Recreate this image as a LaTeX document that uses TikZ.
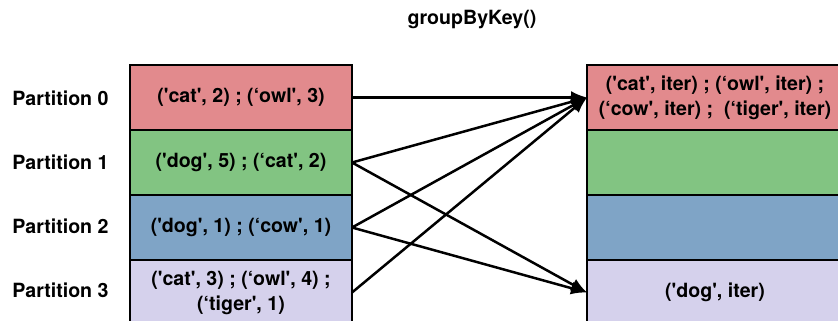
\documentclass[tikz,border=0pt]{standalone}
\usepackage{fontspec}
\newfontfamily\hv{TeX Gyre Heros}
\usepackage{tikz}
\usetikzlibrary{arrows.meta}
\definecolor{pred}{RGB}{226,138,141}
\definecolor{pgreen}{RGB}{130,196,130}
\definecolor{pblue}{RGB}{127,164,198}
\definecolor{plav}{RGB}{213,209,236}
\tikzset{
  part/.style={draw=black, line width=2pt, inner sep=0pt, outer sep=0pt,
    minimum height=65pt, align=center},
  lpart/.style={part, minimum width=222pt},
  rpart/.style={part, minimum width=256pt},
  shuffle/.style={line width=2.5pt, -{Latex[length=16pt,width=13pt]}}
}
\begin{document}
\begin{tikzpicture}[x=1pt,y=-1pt,
  every node/.style={font=\hv\bfseries\fontsize{19.6}{25}\selectfont}]
      \clip (0,0) rectangle (838,321);
      \node (title) at (472, 20) {groupByKey()};

      % partitions before the shuffle
      \node [lpart, fill=pred] (l0) at (241, 97.5) {('cat', 2) ; (‘owl', 3)};
      \node [lpart, fill=pgreen] (l1) at (241, 162.5) {('dog', 5) ; (‘cat', 2)};
      \node [lpart, fill=pblue] (l2) at (241, 227.5) {('dog', 1) ; (‘cow', 1)};
      \node [lpart, fill=plav] (l3) at (241, 292.5) {('cat', 3) ; (‘owl', 4) ;\\(‘tiger', 1)};

      \foreach \i in {0,...,3}
        \node (p\i) at (60.5, 98.5+64*\i) {Partition \i};

      % partitions after the shuffle
      \node [rpart, fill=pred] (r0) at (715, 97.5) {('cat', iter) ; (‘owl', iter) ;\\(‘cow', iter) ;~ (‘tiger', iter)};
      \node [rpart, fill=pgreen] (r1) at (715, 162.5) {};
      \node [rpart, fill=pblue] (r2) at (715, 227.5) {};
      \node [rpart, fill=plav] (r3) at (715, 292.5) {('dog', iter)};

      \draw [shuffle] (l0.east) -- (r0.west);
      \draw [shuffle] (l1.east) -- (r0.west);
      \draw [shuffle] (l1.east) -- (r3.west);
      \draw [shuffle] (l2.east) -- (r0.west);
      \draw [shuffle] (l2.east) -- (r3.west);
      \draw [shuffle] (l3.east) -- (r0.west);
\end{tikzpicture}
\end{document}
